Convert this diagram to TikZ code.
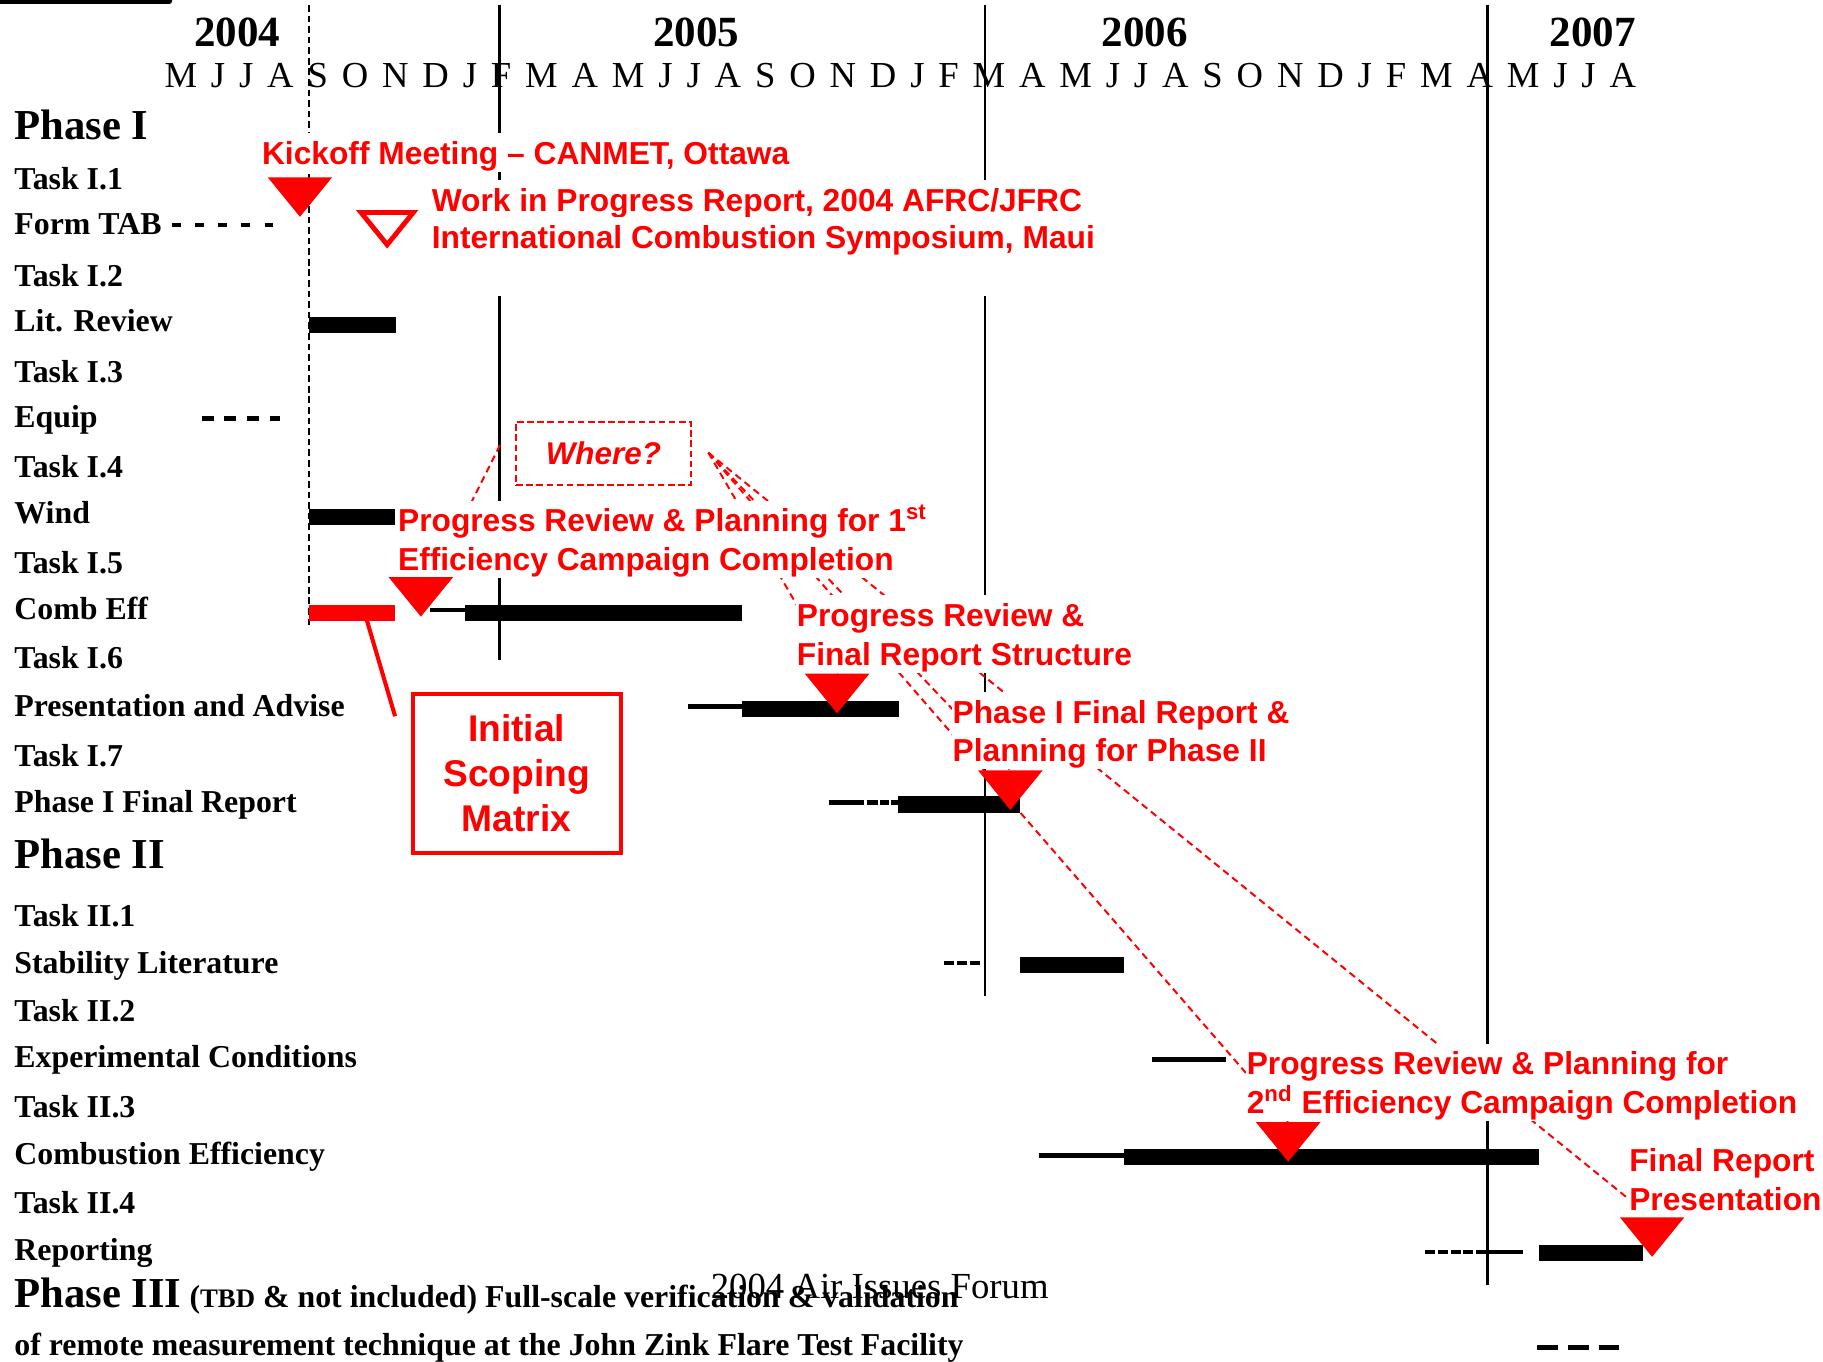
\documentclass[tikz,border=0pt]{standalone}
\usepackage{fontspec}
\setmainfont{Liberation Serif}
\newfontfamily\rsans{Liberation Sans}
\tikzset{
  lab/.style={anchor=base west, inner sep=0pt, font=\fontsize{13.7}{16}\selectfont\bfseries},
  phase/.style={anchor=base west, inner sep=0pt, font=\fontsize{18.35}{20}\selectfont\bfseries},
  yearlab/.style={anchor=base, inner sep=0pt, font=\fontsize{18.5}{20}\selectfont\bfseries},
  rtxt/.style={anchor=base west, inner xsep=0.5pt, inner ysep=0pt, text height=13.4pt, text depth=3.4pt, fill=white, text=red, font=\rsans\bfseries\fontsize{13.65}{16}\selectfont},
  bar/.style={rectangle, fill=black, inner sep=0pt, draw=none},
  yline/.style={black, line width=1pt},
  thin/.style={black, line width=2pt},
  link/.style={red, line width=0.85pt, dash pattern=on 3pt off 2pt},
  mstone/.pic={\fill[red] (-27.75,-34) -- (27.75,-34) -- (0,0) -- cycle;}
}
\begin{document}
\begin{tikzpicture}[x=0.5pt,y=-0.5pt]
\useasboundingbox (0,0) rectangle (1568,1171);

% top-left bar
\fill[black, rounded corners=1.2pt] (-6,-3) rectangle (148,3.4);

% year lines
\draw[black, line width=0.8pt, dash pattern=on 2.85pt off 1.7pt] (266,4.3) -- (266,540);
\draw[yline] (429.5,4.3) -- (429.5,156);
\draw[yline] (429.5,255) -- (429.5,568);
\draw[yline] (847,4.3) -- (847,155);
\draw[yline] (847,255) -- (847,857);
\draw[yline] (1279.3,4.3) -- (1279.3,1105);

% header
\node[yearlab] (y2004) at (204,40.1) {2004};
\node[yearlab] (y2005) at (599,40.1) {2005};
\node[yearlab] (y2006) at (984.5,40.1) {2006};
\node[yearlab] (y2007) at (1370,40.1) {2007};
\node[anchor=base west, inner sep=0pt, font=\fontsize{15.75}{18}\selectfont] (months) at (141.1,75.1)
 {\hbox to 632.95pt{M\hfill J\hfill J\hfill A\hfill S\hfill O\hfill N\hfill D\hfill J\hfill F\hfill M\hfill A\hfill M\hfill J\hfill J\hfill A\hfill S\hfill O\hfill N\hfill D\hfill J\hfill F\hfill M\hfill A\hfill M\hfill J\hfill J\hfill A\hfill S\hfill O\hfill N\hfill D\hfill J\hfill F\hfill M\hfill A\hfill M\hfill J\hfill J\hfill A}};

% left labels
\node[phase] (ph1) at (12,119.8) {Phase I};
\node[lab] (t11) at (12,163.4) {Task I.1};
\node[lab] (ftab) at (12,202) {Form TAB};
\node[lab] (t12) at (12,246.6) {Task I.2};
\node[lab] (litr) at (12,285.3) {Lit. Review};
\node[lab] (t13) at (12,329.1) {Task I.3};
\node[lab] (equip) at (12,368) {Equip};
\node[lab] (t14) at (12,411) {Task I.4};
\node[lab] (wind) at (12,450.7) {Wind};
\node[lab] (t15) at (12,493) {Task I.5};
\node[lab] (ceff) at (12,533) {Comb Eff};
\node[lab] (t16) at (12,574.7) {Task I.6};
\node[lab] (pres) at (12,616) {Presentation and Advise};
\node[lab] (t17) at (12,659) {Task I.7};
\node[lab] (p1fr) at (12,699) {Phase I Final Report};
\node[phase] (ph2) at (12,746.6) {Phase II};
\node[lab] (t21) at (12,796.5) {Task II.1};
\node[lab] (stab) at (12,837) {Stability Literature};
\node[lab] (t22) at (12,878.8) {Task II.2};
\node[lab] (expc) at (12,918.6) {Experimental Conditions};
\node[lab] (t23) at (12,961.5) {Task II.3};
\node[lab] (comb) at (12,1001.5) {Combustion Efficiency};
\node[lab] (t24) at (12,1043.7) {Task II.4};
\node[lab] (rep) at (12,1083.8) {Reporting};
\node[lab] (ph3) at (12,1125) {{\fontsize{18.35}{20}\selectfont Phase III} ({\fontsize{11.5}{12}\selectfont TBD} \& not included) Full-scale verification \& validation};
\node[lab] (ph3b) at (12,1165.5) {of remote measurement technique at the John Zink Flare Test Facility};
\node[anchor=base west, inner sep=0pt, font=\fontsize{15.8}{18}\selectfont] (forum) at (611,1116.7) {2004 Air Issues Forum};

% milestone reference points
\coordinate (wL) at (430,383);
\coordinate (wR) at (609.3,389.4);
\coordinate (ceTop) at (373,497);
\coordinate (presTop) at (720,580);
\coordinate (p1Top) at (869,662.3);
\coordinate (combTop) at (1108,964.8);
\coordinate (repTop) at (1421,1047.6);

% dashed links from "Where?"
\draw[link] (wL) -- (ceTop);
\draw[link] (wR) -- (presTop);
\draw[link] (wR) -- (p1Top);
\draw[link] (wR) -- (combTop);
\draw[link] (wR) -- (repTop);

% red annotations
\node[rtxt] (kick) at (224,141.3) {Kickoff Meeting – CANMET, Ottawa};
\node[rtxt] (wip1) at (370,182) {Work in Progress Report, 2004 AFRC/JFRC};
\node[rtxt] (wip2) at (370,213.6) {International Combustion Symposium, Maui};
\node[rtxt] (pr1a) at (341,457.3) {Progress Review \& Planning for 1\textsuperscript{st}};
\node[rtxt] (pr1b) at (341,490.3) {Efficiency Campaign Completion};
\node[rtxt] (frs1) at (684,539) {Progress Review \&};
\node[rtxt] (frs2) at (684,572) {Final Report Structure};
\node[rtxt] (p1f1) at (818,622) {Phase I Final Report \&};
\node[rtxt] (p1f2) at (818,655) {Planning for Phase II};
\node[rtxt] (pr2a) at (1071,924.6) {Progress Review \& Planning for};
\node[rtxt] (pr2b) at (1071,957.5) {2\textsuperscript{nd} Efficiency Campaign Completion};
\node[rtxt] (frp1) at (1400,1007.8) {Final Report};
\node[rtxt] (frp2) at (1400,1040.8) {Presentation};

% Where? box
\node[draw=red, line width=0.85pt, dash pattern=on 2.85pt off 1.5pt, minimum width=75pt, minimum height=27.25pt, inner sep=0pt, text=red, font=\rsans\bfseries\itshape\fontsize{13.5}{16}\selectfont] (where) at (519,390) {Where?};

% bars
\node[bar, minimum width=37.25pt, minimum height=6.75pt] (litBar) at (303.25,279.75) {};
\node[bar, minimum width=37pt, minimum height=6.8pt] (windBar) at (303,444.8) {};
\node[bar, fill=red, minimum width=37pt, minimum height=6.75pt] (ceRed) at (303,527.25) {};
\node[bar, minimum width=119.25pt, minimum height=6.75pt] (ceBar) at (519.25,527.25) {};
\node[bar, minimum width=67.5pt, minimum height=6.7pt] (presBar) at (705.5,609.7) {};
\node[bar, minimum width=52.5pt, minimum height=7pt] (p1Bar) at (824.5,692) {};
\node[bar, minimum width=45pt, minimum height=6.8pt] (stabBar) at (922,829.8) {};
\node[bar, minimum width=178.45pt, minimum height=6.85pt] (combBar) at (1145.25,995.15) {};
\node[bar, minimum width=44.5pt, minimum height=6.7pt] (repBar) at (1368.5,1077.7) {};

% thin lead lines and dashes
\draw[black, line width=2pt, dash pattern=on 3.7pt off 6.25pt] (148,193.5) -- (235,193.5);
\draw[black, line width=2pt, dash pattern=on 5.1pt off 4.6pt] (173.6,359.7) -- (240.8,359.7);
\draw[thin] (370,524.8) -- (401,524.8);
\draw[thin] (592,607.8) -- (638,607.8);
\draw[black, line width=2pt, dash pattern=on 15.35pt off 1pt on 4.85pt off 1pt on 3.8pt off 0.9pt on 2.9pt off 10pt] (712.7,690.2) -- (772,690.2);
\draw[black, line width=1.7pt, dash pattern=on 4.15pt off 1.5pt] (812,828.5) -- (843,828.5);
\draw[thin] (991,911.2) -- (1054.6,911.2);
\draw[thin] (893.7,994) -- (966.8,994);
\draw[black, line width=1.7pt, dash pattern=on 4.3pt off 1.15pt] (1226,1076.6) -- (1280,1076.6);
\draw[black, line width=1.7pt] (1280,1076.6) -- (1310,1076.6);
\draw[black, line width=2pt, dash pattern=on 8.75pt off 4.6pt] (1322.3,1159.2) -- (1392.8,1159.2);

% Initial scoping matrix
\node[draw=red, line width=1.75pt, fill=white, minimum width=89.5pt, minimum height=68.3pt, inner sep=0pt, align=center, text=red, font=\rsans\bfseries\fontsize{16}{19.25}\selectfont] (ism) at (444.4,665) {Initial\\Scoping\\Matrix};
\coordinate (ceLink) at (315.4,533);
\coordinate (ismLink) at (339.8,616);
\draw[red, line width=1.75pt] (ceLink) -- (ismLink);

% milestones
\pic at (258,186.5) {mstone};
\draw[red, line width=2.1pt, line join=miter] (310.5,182.75) -- (355.5,182.75) -- (333,210.5) -- cycle;
\pic at (362,530.4) {mstone};
\pic at (720,613.5) {mstone};
\pic at (869,696.7) {mstone};
\pic at (1108,999.2) {mstone};
\pic at (1421,1081) {mstone};
\end{tikzpicture}
\end{document}
